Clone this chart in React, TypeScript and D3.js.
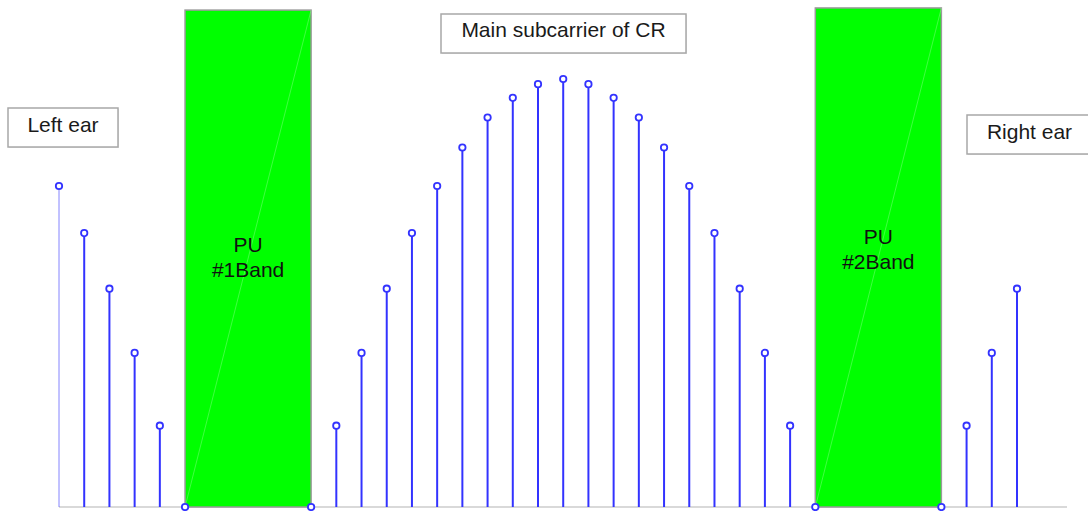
import React from "react";
import * as d3 from "d3";

const W = 1088;
const H = 511;

// subcarrier index and relative amplitude (0 = inside PU band / suppressed)
const subcarriers: number[] = d3.range(0, 39);
const amplitudes: number[] = [
  0.75, 0.64, 0.51, 0.36, 0.19,
  0, 0, 0, 0, 0, 0,
  0.19, 0.36, 0.51, 0.64, 0.75, 0.84, 0.91, 0.956, 0.988, 1.0,
  0.988, 0.956, 0.91, 0.84, 0.75, 0.64, 0.51, 0.36, 0.19,
  0, 0, 0, 0, 0, 0,
  0.19, 0.36, 0.51,
];
// stems drawn (indices inside bands are hidden except the band edges)
const hiddenIdx: number[] = [6, 7, 8, 9, 31, 32, 33, 34];

const bandNames: string[] = ["#1Band", "#2Band"];
const bandStart: number[] = [5, 30];
const bandEnd: number[] = [10, 35];
const bandTop: number[] = [1.161, 1.166];

const labels: string[] = ["Left ear", "Main subcarrier of CR", "Right ear"];

export default function App() {
  const x = d3.scaleLinear().domain([0, 38]).range([59, 1017]);
  const y = d3.scaleLinear().domain([0, 1]).range([507, 79]);
  const font = "'Liberation Sans', Arial, Helvetica, sans-serif";

  const boxes = [
    { x: 8, y: 108, w: 110, h: 39, tx: 63, ty: 132 },
    { x: 441, y: 14, w: 245, h: 39, tx: 563.5, ty: 37 },
    { x: 967, y: 115, w: 130, h: 39, tx: 1029.5, ty: 139 },
  ];
  const bandTextDy = [0, -8];

  return (
    <svg
      width={W}
      height={H}
      style={{ position: "absolute", left: 0, top: 0, background: "#fff" }}
      fontFamily={font}
    >
      {/* baseline */}
      <line x1={x(0)} x2={1067} y1={y(0)} y2={y(0)} stroke="#d9d9d9" strokeWidth={2} />

      {/* PU bands */}
      {bandStart.map((s, i) => {
        const x0 = x(s);
        const x1 = x(bandEnd[i]);
        const yt = y(bandTop[i]);
        const cx = (x0 + x1) / 2;
        const dy = bandTextDy[i];
        return (
          <g key={"b" + i}>
            <rect x={x0} y={yt} width={x1 - x0} height={y(0) - yt} fill="#00ff00" stroke="#9a9a9a" strokeWidth={1.5} />
            <line x1={x0} y1={y(0)} x2={x1} y2={yt} stroke="#8cff8c" strokeOpacity={0.45} strokeWidth={1} />
            <text x={cx} y={252 + dy} textAnchor="middle" fontSize={21} fill="#111">PU</text>
            <text x={cx} y={277 + dy} textAnchor="middle" fontSize={21} fill="#111">{bandNames[i]}</text>
          </g>
        );
      })}

      {/* stems */}
      {subcarriers.map((k, i) => {
        if (hiddenIdx.includes(k)) return null;
        const a = amplitudes[i];
        return (
          <g key={"s" + k}>
            {a > 0 && (
              <line
                x1={x(k)}
                x2={x(k)}
                y1={y(0)}
                y2={y(a)}
                stroke="#3333ff"
                strokeWidth={k === 0 ? 1 : 2}
                strokeOpacity={k === 0 ? 0.6 : 1}
              />
            )}
            <circle cx={x(k)} cy={y(a)} r={3.2} fill="#fff" stroke="#3333ff" strokeWidth={1.8} />
          </g>
        );
      })}

      {/* annotation boxes */}
      {labels.map((t, i) => {
        const b = boxes[i];
        return (
          <g key={"l" + i}>
            <rect x={b.x + 1} y={b.y + 1} width={b.w} height={b.h} fill="#e6e6e6" />
            <rect x={b.x} y={b.y} width={b.w} height={b.h} fill="#fff" stroke="#a8a8a8" strokeWidth={1.5} />
            <text x={b.tx} y={b.ty} textAnchor="middle" fontSize={21} fill="#1a1a1a">{t}</text>
          </g>
        );
      })}
    </svg>
  );
}
